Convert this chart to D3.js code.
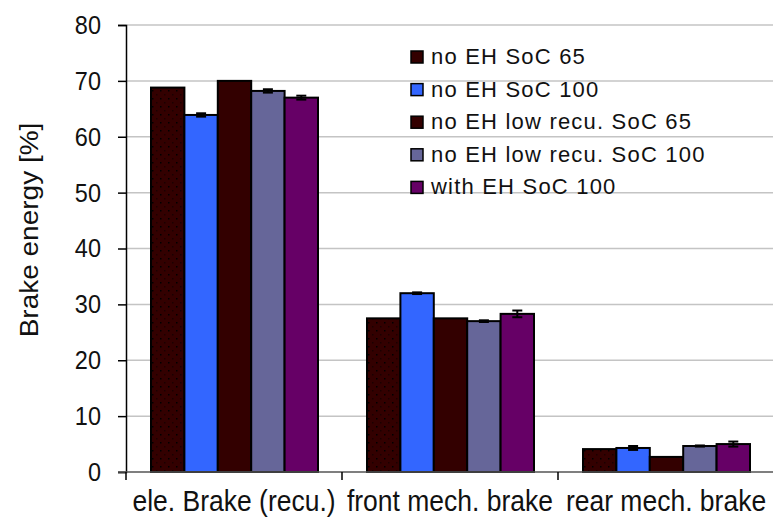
<!DOCTYPE html>
<html>
<head>
<meta charset="utf-8">
<script src="https://cdn.jsdelivr.net/npm/d3@7"></script>
<style>
  html, body { margin: 0; padding: 0; background: #fff; }
  svg { display: block; font-family: "Liberation Sans", Arial, sans-serif; }
</style>
</head>
<body>
<svg id="chart" width="773" height="518"></svg>
<script>
// Brake energy share per braking path for five vehicle configurations
const categories = ["ele. Brake (recu.)", "front mech. brake", "rear mech. brake"];
const seriesNames = ["no EH SoC 65", "no EH SoC 100", "no EH low recu. SoC 65", "no EH low recu. SoC 100", "with EH SoC 100"];
const seriesColors = ["#330000", "#3366ff", "#330000", "#666699", "#660066"];

// values [%] per series, in category order
const noEhSoc65      = [68.8, 27.5, 4.1];
const noEhSoc100     = [63.9, 32.0, 4.3];
const lowRecuSoc65   = [70.0, 27.5, 2.7];
const lowRecuSoc100  = [68.2, 27.0, 4.65];
const withEhSoc100   = [67.0, 28.3, 5.0];
const seriesValues = [noEhSoc65, noEhSoc100, lowRecuSoc65, lowRecuSoc100, withEhSoc100];

// standard deviation per series, in category order
const noEhSoc65Err     = [0, 0, 0];
const noEhSoc100Err    = [0.3, 0.15, 0.35];
const lowRecuSoc65Err  = [0, 0, 0];
const lowRecuSoc100Err = [0.3, 0.15, 0.1];
const withEhSoc100Err  = [0.35, 0.6, 0.45];
const seriesErrors = [noEhSoc65Err, noEhSoc100Err, lowRecuSoc65Err, lowRecuSoc100Err, withEhSoc100Err];

const yTicks = [0, 10, 20, 30, 40, 50, 60, 70, 80];

const svg = d3.select("#chart");
const plotLeft = 126, plotRight = 774, plotTop = 25, plotBottom = 472;
const stretch = 1.12; // axis text is drawn slightly taller than wide

const x0 = d3.scaleBand().domain(categories).range([plotLeft, plotRight]);
const x1 = d3.scaleBand().domain(seriesNames).range([25, 192]);
const y = d3.scaleLinear().domain([0, 80]).range([plotBottom, plotTop]);

// dotted fill for the first series
const defs = svg.append("defs");
const pat = defs.append("pattern")
  .attr("id", "dots").attr("patternUnits", "userSpaceOnUse")
  .attr("width", 8).attr("height", 8);
pat.append("rect").attr("width", 8).attr("height", 8).attr("fill", "#330000");
pat.append("rect").attr("x", 2).attr("y", 2).attr("width", 1.5).attr("height", 1.5).attr("fill", "#000");
pat.append("rect").attr("x", 6).attr("y", 6).attr("width", 1.5).attr("height", 1.5).attr("fill", "#1a0000");

// gridlines
svg.append("g").selectAll("line").data(yTicks.filter(d => d > 0)).join("line")
  .attr("x1", plotLeft).attr("x2", 773)
  .attr("y1", d => y(d)).attr("y2", d => y(d))
  .attr("stroke", "#c4c4c4").attr("stroke-width", 1.5);

// y axis
const yAxis = svg.append("g").attr("transform", `translate(${plotLeft},0)`)
  .call(d3.axisLeft(y).tickValues(yTicks).tickSize(8).tickPadding(17));
yAxis.select(".domain").attr("stroke", "#000").attr("stroke-width", 1.5);
yAxis.selectAll(".tick line").attr("stroke", "#000").attr("stroke-width", 1.5);
yAxis.selectAll(".tick text").attr("font-size", 23.5).attr("fill", "#111")
  .attr("font-family", "Liberation Sans, Arial, sans-serif")
  .attr("transform", `scale(1,${stretch})`);

// bars
const groups = svg.append("g").selectAll("g").data(categories).join("g")
  .attr("transform", c => `translate(${x0(c)},0)`);

groups.each(function(c, ci) {
  const g = d3.select(this);
  const rows = seriesNames.map((s, si) => ({ s, si, v: seriesValues[si][ci], e: seriesErrors[si][ci] }));
  g.selectAll("rect").data(rows).join("rect")
    .attr("x", d => x1(d.s))
    .attr("y", d => y(d.v))
    .attr("width", x1.bandwidth())
    .attr("height", d => y(0) - y(d.v))
    .attr("fill", d => d.si === 0 ? "url(#dots)" : seriesColors[d.si])
    .attr("stroke", "#000").attr("stroke-width", 2);
  const eb = g.selectAll("g.err").data(rows.filter(d => d.e > 0)).join("g").attr("class", "err");
  eb.append("line")
    .attr("x1", d => x1(d.s) + x1.bandwidth() / 2).attr("x2", d => x1(d.s) + x1.bandwidth() / 2)
    .attr("y1", d => y(d.v + d.e)).attr("y2", d => y(d.v - d.e))
    .attr("stroke", "#000").attr("stroke-width", 2);
  eb.selectAll("line.cap").data(d => [d.v + d.e, d.v - d.e].map(v => ({ d, v }))).join("line")
    .attr("class", "cap")
    .attr("x1", o => x1(o.d.s) + x1.bandwidth() / 2 - 5).attr("x2", o => x1(o.d.s) + x1.bandwidth() / 2 + 5)
    .attr("y1", o => y(o.v)).attr("y2", o => y(o.v))
    .attr("stroke", "#000").attr("stroke-width", 2);
});

// x axis
const xAxis = svg.append("g").attr("transform", `translate(0,${plotBottom})`);
xAxis.append("line").attr("x1", plotLeft - 8).attr("x2", 773).attr("y1", 0).attr("y2", 0)
  .attr("stroke", "#555").attr("stroke-width", 1.5);
xAxis.selectAll("line.tk").data(categories).join("line").attr("class", "tk")
  .attr("x1", c => x0(c)).attr("x2", c => x0(c)).attr("y1", 0).attr("y2", 8)
  .attr("stroke", "#000").attr("stroke-width", 1.5);
xAxis.selectAll("text").data(categories).join("text")
  .attr("transform", c => `translate(${x0(c) + x0.bandwidth() / 2},39) scale(1,${stretch})`)
  .attr("text-anchor", "middle").attr("font-size", 26.5).attr("fill", "#111")
  .text(c => c);

// y title
svg.append("text")
  .attr("transform", `translate(38,230) rotate(-90) scale(${stretch},1)`)
  .attr("text-anchor", "middle").attr("font-size", 25).attr("fill", "#111")
  .text("Brake energy [%]");

// legend
const legend = svg.append("g").attr("transform", "translate(411,57)");
const li = legend.selectAll("g").data(seriesNames).join("g")
  .attr("transform", (d, i) => `translate(0,${i * 32.6})`);
li.append("rect").attr("x", 0).attr("y", -6).attr("width", 12).attr("height", 12)
  .attr("fill", (d, i) => seriesColors[i]).attr("stroke", "#000").attr("stroke-width", 1.5);
li.append("text").attr("x", 20).attr("y", 7).attr("font-size", 22).attr("letter-spacing", 1.2)
  .attr("fill", "#111")
  .text(d => d);
</script>
</body>
</html>
